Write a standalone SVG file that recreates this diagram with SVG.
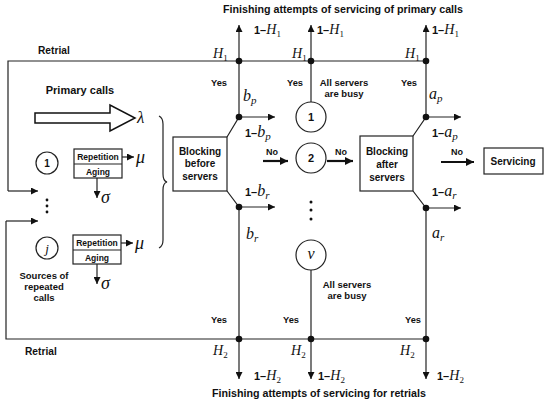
<svg xmlns="http://www.w3.org/2000/svg" width="550" height="404" viewBox="0 0 550 404" font-size="10">
<defs>
<marker id="ah" viewBox="0 0 10 10" refX="10" refY="5" markerWidth="9" markerHeight="7" markerUnits="userSpaceOnUse" orient="auto"><path d="M0,0 L10,5 L0,10 z" fill="#111"/></marker>
<marker id="ahb" viewBox="0 0 10 10" refX="10" refY="5" markerWidth="11" markerHeight="8" markerUnits="userSpaceOnUse" orient="auto"><path d="M0,0 L10,5 L0,10 z" fill="#111"/></marker>
<style>
.ln{stroke:#222;stroke-width:1.2;fill:none}
.ar{stroke:#222;stroke-width:1.2;fill:none;marker-end:url(#ah)}
.tk{stroke:#111;stroke-width:2.2;fill:none;marker-end:url(#ahb)}
.bx{fill:#fff;stroke:#222;stroke-width:1.2}
.t{font-family:"Liberation Sans",Arial,sans-serif;font-weight:bold;font-style:normal;fill:#111}
.m{font-family:"Liberation Serif","Times New Roman",serif;font-style:italic;fill:#111}
.u{font-style:normal}
.c{text-anchor:middle}
.dot{fill:#111}
</style>
</defs>

<text class="t c" x="343" y="13" font-size="10.7">Finishing attempts of servicing of primary calls</text>
<text class="t c" x="319" y="397" font-size="10.7">Finishing attempts of servicing for retrials</text>
<text class="t" x="38" y="54" font-size="10.2">Retrial</text>
<text class="t" x="25" y="355" font-size="10.2">Retrial</text>

<g id="connectors">
<path class="ln" d="M426,61 H8 V191"/>
<path class="ar" d="M8,191 H38"/>
<path class="ln" d="M426,339 H6 V221"/>
<path class="ar" d="M6,221 H38"/>
<path class="ar" d="M239,61 V25"/>
<path class="ar" d="M311,61 V25"/>
<path class="ar" d="M426,61 V25"/>
<path class="ar" d="M239,339 V379"/>
<path class="ar" d="M311,339 V379"/>
<path class="ar" d="M426,339 V379"/>
<path class="ln" d="M239,61 V117 L227,137"/>
<path class="ln" d="M239,339 V207 L227,191"/>
<path class="ln" d="M426,61 V117 L413,136"/>
<path class="ln" d="M426,339 V208 L413,191"/>
<path class="ln" d="M311,61 V102"/>
<path class="ln" d="M311,270 V339"/>
<path class="ar" d="M239,117 H275"/>
<path class="ar" d="M239,207 H275"/>
<path class="ar" d="M426,117 H461"/>
<path class="ar" d="M426,208 H461"/>
<path class="tk" d="M263,161 H288"/>
<path class="tk" d="M327,161 H353"/>
<path class="tk" d="M441,162 H474"/>
<path class="ar" d="M122,157 H134"/>
<path class="ar" d="M121,243 H133"/>
<path class="ar" d="M97,178 V198"/>
<path class="ar" d="M97,264 V284"/>
<circle class="dot" cx="239" cy="61" r="3.3"/>
<circle class="dot" cx="311" cy="61" r="3.3"/>
<circle class="dot" cx="426" cy="61" r="3.3"/>
<circle class="dot" cx="239" cy="339" r="3.3"/>
<circle class="dot" cx="311" cy="339" r="3.3"/>
<circle class="dot" cx="426" cy="339" r="3.3"/>
<circle class="dot" cx="239" cy="117" r="3.3"/>
<circle class="dot" cx="239" cy="207" r="3.3"/>
<circle class="dot" cx="426" cy="117" r="3.3"/>
<circle class="dot" cx="426" cy="208" r="3.3"/>
</g>

<g id="labels">
<text class="m" x="213" y="58" font-size="14">H<tspan class="u" font-size="9" dy="3">1</tspan></text>
<text class="m" x="292" y="58" font-size="14">H<tspan class="u" font-size="9" dy="3">1</tspan></text>
<text class="m" x="405" y="58" font-size="14">H<tspan class="u" font-size="9" dy="3">1</tspan></text>
<text class="m" x="213" y="355" font-size="14">H<tspan class="u" font-size="9" dy="3">2</tspan></text>
<text class="m" x="291" y="355" font-size="14">H<tspan class="u" font-size="9" dy="3">2</tspan></text>
<text class="m" x="400" y="355" font-size="14">H<tspan class="u" font-size="9" dy="3">2</tspan></text>

<text class="m" x="254" y="34" font-size="14"><tspan class="t" font-size="11">1–</tspan>H<tspan class="u" font-size="9" dy="3">1</tspan></text>
<text class="m" x="317" y="34" font-size="14"><tspan class="t" font-size="11">1–</tspan>H<tspan class="u" font-size="9" dy="3">1</tspan></text>
<text class="m" x="432" y="34" font-size="14"><tspan class="t" font-size="11">1–</tspan>H<tspan class="u" font-size="9" dy="3">1</tspan></text>
<text class="m" x="254" y="380" font-size="14"><tspan class="t" font-size="11">1–</tspan>H<tspan class="u" font-size="9" dy="3">2</tspan></text>
<text class="m" x="318" y="380" font-size="14"><tspan class="t" font-size="11">1–</tspan>H<tspan class="u" font-size="9" dy="3">2</tspan></text>
<text class="m" x="437" y="380" font-size="14"><tspan class="t" font-size="11">1–</tspan>H<tspan class="u" font-size="9" dy="3">2</tspan></text>

<text class="m" x="243" y="101" font-size="16">b<tspan font-size="11" dy="3">p</tspan></text>
<text class="m" x="245" y="137" font-size="16"><tspan class="t" font-size="11">1–</tspan>b<tspan font-size="11" dy="3">p</tspan></text>
<text class="m" x="245" y="196" font-size="16"><tspan class="t" font-size="11">1–</tspan>b<tspan font-size="11" dy="3">r</tspan></text>
<text class="m" x="246" y="239" font-size="16">b<tspan font-size="11" dy="3">r</tspan></text>
<text class="m" x="429" y="99" font-size="16">a<tspan font-size="11" dy="3">p</tspan></text>
<text class="m" x="432" y="137" font-size="16"><tspan class="t" font-size="11">1–</tspan>a<tspan font-size="11" dy="3">p</tspan></text>
<text class="m" x="432" y="196" font-size="16"><tspan class="t" font-size="11">1–</tspan>a<tspan font-size="11" dy="3">r</tspan></text>
<text class="m" x="432" y="238" font-size="16">a<tspan font-size="11" dy="3">r</tspan></text>

<text class="t" x="211" y="86" font-size="9.3">Yes</text>
<text class="t" x="287" y="86" font-size="9.3">Yes</text>
<text class="t" x="401" y="86" font-size="9.3">Yes</text>
<text class="t" x="211" y="323" font-size="9.3">Yes</text>
<text class="t" x="283" y="323" font-size="9.3">Yes</text>
<text class="t" x="405" y="323" font-size="9.3">Yes</text>

<text class="t c" x="272" y="155" font-size="9">No</text>
<text class="t c" x="341" y="155" font-size="9">No</text>
<text class="t c" x="457" y="155" font-size="9">No</text>

<text class="t c" x="344" y="86" font-size="9.5">All servers</text>
<text class="t c" x="344" y="97" font-size="9.5">are busy</text>
<text class="t c" x="347" y="288" font-size="9.5">All servers</text>
<text class="t c" x="347" y="299" font-size="9.5">are busy</text>
</g>

<g id="blocking-before">
<rect class="bx" x="173" y="137" width="54" height="54"/>
<text class="t c" x="200" y="155" font-size="10">Blocking</text>
<text class="t c" x="200" y="167" font-size="10">before</text>
<text class="t c" x="200" y="180" font-size="10">servers</text>
</g>

<g id="blocking-after">
<rect class="bx" x="360" y="136" width="53" height="55"/>
<text class="t c" x="387" y="155" font-size="10">Blocking</text>
<text class="t c" x="387" y="168" font-size="10">after</text>
<text class="t c" x="387" y="181" font-size="10">servers</text>
</g>

<g id="servicing">
<rect class="bx" x="484" y="148" width="59" height="26"/>
<text class="t c" x="513" y="165" font-size="10">Servicing</text>
</g>

<g id="server-1">
<circle class="bx" cx="311" cy="117" r="15"/>
<text class="t c" x="311" y="121" font-size="11">1</text>
</g>
<g id="server-2">
<circle class="bx" cx="311" cy="158" r="15"/>
<text class="t c" x="311" y="162" font-size="11">2</text>
</g>
<g id="server-dots">
<circle class="dot" cx="311" cy="202" r="1.5"/>
<circle class="dot" cx="311" cy="210" r="1.5"/>
<circle class="dot" cx="311" cy="219" r="1.5"/>
</g>
<g id="server-v">
<circle class="bx" cx="311" cy="255" r="15"/>
<text class="m c" x="311" y="259" font-size="16">v</text>
</g>

<g id="primary-calls">
<text class="t c" x="80" y="94" font-size="11">Primary calls</text>
<path d="M35,113 H110 V105 L135,118 L110,131 V123 H35 Z" fill="#fff" stroke="#111" stroke-width="1.5"/>
<text class="m" x="137" y="123" font-size="17">λ</text>
</g>

<g id="brace">
<path class="ln" d="M159,116 Q163,118 163,124 V174 Q163,181 167,182 Q163,183 163,190 V240 Q163,246 159,248"/>
</g>

<g id="source-1">
<circle class="bx" cx="47" cy="163" r="11"/>
<text class="t c" x="47" y="167" font-size="10">1</text>
<rect class="bx" x="74" y="149" width="48" height="29"/>
<line class="ln" x1="74" y1="164" x2="122" y2="164"/>
<text class="t c" x="98" y="160" font-size="8.5">Repetition</text>
<text class="t c" x="98" y="175" font-size="8.5">Aging</text>
<text class="m" x="136" y="163" font-size="18">μ</text>
<text class="m" x="101" y="203" font-size="18">σ</text>
</g>

<g id="source-dots">
<circle class="dot" cx="47" cy="200" r="1.4"/>
<circle class="dot" cx="47" cy="206" r="1.4"/>
<circle class="dot" cx="47" cy="212" r="1.4"/>
</g>

<g id="source-j">
<circle class="bx" cx="47" cy="248" r="11"/>
<text class="m c" x="47" y="253" font-size="13">j</text>
<rect class="bx" x="73" y="235" width="48" height="29"/>
<line class="ln" x1="73" y1="250" x2="121" y2="250"/>
<text class="t c" x="97" y="246" font-size="8.5">Repetition</text>
<text class="t c" x="97" y="261" font-size="8.5">Aging</text>
<text class="m" x="135" y="249" font-size="18">μ</text>
<text class="m" x="101" y="289" font-size="18">σ</text>
<text class="t c" x="44" y="279" font-size="9.5">Sources of</text>
<text class="t c" x="44" y="290" font-size="9.5">repeated</text>
<text class="t c" x="44" y="301" font-size="9.5">calls</text>
</g>
</svg>
